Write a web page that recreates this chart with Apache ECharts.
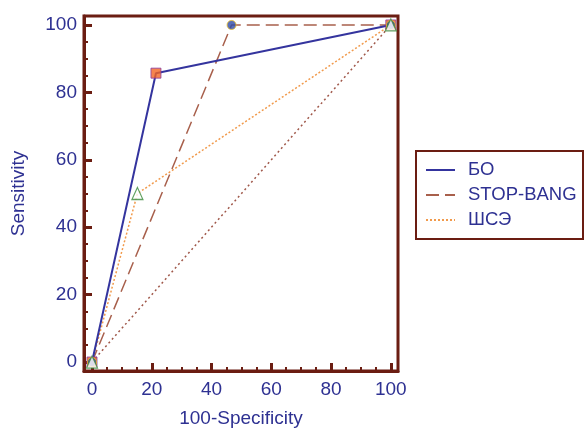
<!DOCTYPE html>
<html>
<head>
<meta charset="utf-8">
<script src="https://cdn.jsdelivr.net/npm/echarts@6/dist/echarts.min.js"></script>
<style>html,body{margin:0;padding:0;background:#fff;}#c{width:585px;height:433px;}</style>
</head>
<body>
<div id="c"></div>
<script>
// ---- data ----
const seriesNames = ['БО', 'STOP-BANG', 'ШСЭ'];
const boX = [0, 21.4, 100];
const boY = [0, 85.7, 100];
const stopX = [0, 46.7, 100];
const stopY = [0, 100, 100];
const shseX = [0, 15.2, 100];
const shseY = [0, 50, 100];
const diagX = [0, 100];
const diagY = [0, 100];
const majorTicks = [0, 20, 40, 60, 80, 100];
const minorTicks = [5, 10, 15, 25, 30, 35, 45, 50, 55, 65, 70, 75, 85, 90, 95];
const xTitle = '100-Specificity';
const yTitle = 'Sensitivity';

function pairs(xs, ys) { return xs.map((x, i) => [x, ys[i]]); }

const AX = '#6b1d12';
const TXT = '#2e3192';
const FONT = 'Liberation Sans, Arial, sans-serif';
const XMIN = -2.68, XMAX = 102.4, YMIN = -2.66, YMAX = 102.66;

function axisPair(kind) {
  const base = {
    type: 'value', min: XMIN, max: XMAX,
    splitLine: { show: false },
  };
  if (kind === 'y') { base.min = YMIN; base.max = YMAX; }
  const major = Object.assign({}, base, {
    position: kind === 'x' ? 'bottom' : 'left',
    axisLine: { show: true, onZero: false, lineStyle: { color: AX, width: 3 } },
    axisTick: { show: true, inside: true, length: 8, customValues: majorTicks, lineStyle: { color: AX, width: 3 } },
    axisLabel: { show: true, customValues: majorTicks, margin: kind === 'x' ? 9 : 7, color: TXT, fontSize: 19, fontFamily: FONT },
    name: kind === 'x' ? xTitle : yTitle,
    nameLocation: 'middle',
    nameGap: kind === 'x' ? 38 : 56,
    nameTextStyle: { color: TXT, fontSize: 19, fontFamily: FONT },
  });
  const minor = Object.assign({}, base, {
    position: kind === 'x' ? 'bottom' : 'left',
    axisLine: { show: false, onZero: false },
    axisTick: { show: true, inside: true, length: 4, customValues: minorTicks, lineStyle: { color: AX, width: 2 } },
    axisLabel: { show: false },
  });
  return [major, minor];
}

const chart = echarts.init(document.getElementById('c'), null, { renderer: 'canvas' });
chart.setOption({
  animation: false,
  backgroundColor: '#fff',
  grid: { left: 84, top: 16, width: 314, height: 356, show: true, borderColor: AX, borderWidth: 3, backgroundColor: 'transparent' },
  xAxis: axisPair('x'),
  yAxis: axisPair('y'),
  graphic: [{
    type: 'rect', left: 415, top: 150, z: 0,
    shape: { width: 167, height: 88 },
    style: { fill: '#fff', stroke: AX, lineWidth: 2 }
  }],
  legend: {
    data: seriesNames,
    orient: 'vertical', left: 420, top: 155,
    itemWidth: 29, itemHeight: 12, itemGap: 5,
    itemStyle: { opacity: 0 },
    textStyle: { color: TXT, fontSize: 18.5, fontFamily: FONT, lineHeight: 20, padding: [0, 0, 0, 8] },
    z: 10
  },
  series: [
    { type: 'line', data: pairs(diagX, diagY), symbol: 'none', silent: true,
      lineStyle: { color: '#a0584a', width: 1.5, type: [2, 3] }, z: 1 },
    { name: seriesNames[2], type: 'line', data: pairs(shseX, shseY), symbol: 'none',
      lineStyle: { color: '#f19a4c', width: 1.5, type: [2, 2] }, itemStyle: { color: '#f19a4c' }, z: 2 },
    { name: seriesNames[1], type: 'line', data: pairs(stopX, stopY), symbol: 'none',
      lineStyle: { color: '#a8604c', width: 1.5, type: [13, 6] }, itemStyle: { color: '#a8604c' }, z: 3 },
    { name: seriesNames[0], type: 'line', data: pairs(boX, boY), symbol: 'none',
      lineStyle: { color: '#34349e', width: 2 }, itemStyle: { color: '#34349e' }, z: 4 },
    { type: 'scatter', data: pairs(boX, boY), symbol: 'rect', symbolSize: 10,
      itemStyle: { color: '#f26522', borderColor: '#8a3aa0', borderWidth: 1 }, z: 5 },
    { type: 'scatter', data: pairs(stopX, stopY), symbol: 'circle', symbolSize: 9,
      itemStyle: { color: '#2e4aa8', borderColor: '#f0c020', borderWidth: 1 }, z: 6 },
    { type: 'scatter', data: pairs(shseX, shseY), symbol: 'triangle', symbolSize: [11, 12],
      itemStyle: { color: '#fff', borderColor: '#3a8a3a', borderWidth: 1.2 }, z: 7 }
  ]
});
</script>
</body>
</html>
